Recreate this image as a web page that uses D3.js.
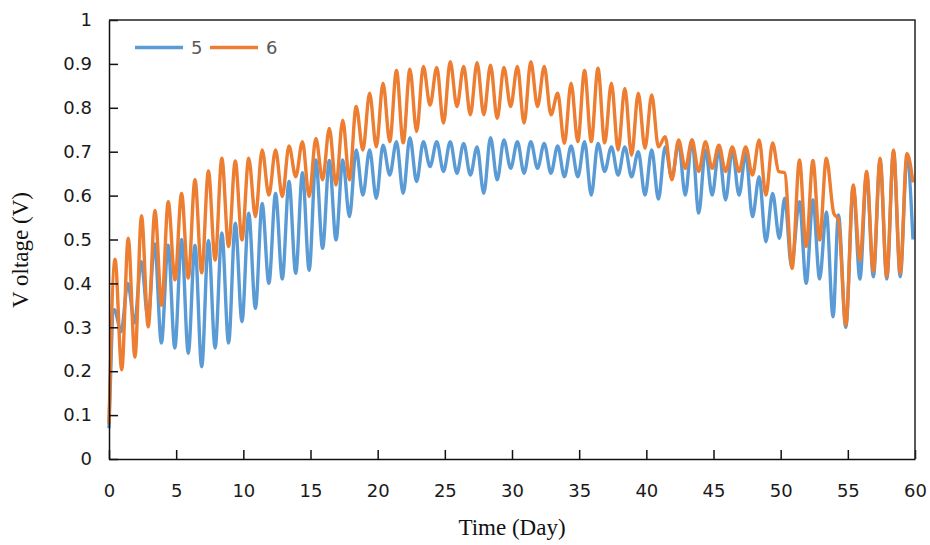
<!DOCTYPE html>
<html>
<head>
<meta charset="utf-8">
<script src="https://cdn.jsdelivr.net/npm/d3@7"></script>
<style>
  body { margin: 0; background: #fff; }
</style>
</head>
<body>
<div class="voltageChart"></div>
<script>
// series names
const seriesNames = ['5', '6'];

// times (day) of each read point and voltage, series 5
const time5 = [0, 0.4, 0.9, 1.4, 1.9, 2.4, 2.9, 3.4, 3.9, 4.4, 4.9, 5.4, 5.9, 6.4, 6.9, 7.4, 7.9, 8.4, 8.9,
  9.4, 9.9, 10.4, 10.9, 11.4, 11.9, 12.4, 12.9, 13.4, 13.9, 14.4, 14.9, 15.4, 15.9, 16.4, 16.9, 17.4, 17.9,
  18.4, 18.9, 19.4, 19.9, 20.4, 20.9, 21.4, 21.9, 22.4, 22.9, 23.4, 23.9, 24.4, 24.9, 25.4, 25.9, 26.4, 26.9,
  27.4, 27.9, 28.4, 28.9, 29.4, 29.9, 30.4, 30.9, 31.4, 31.9, 32.4, 32.9, 33.4, 33.9, 34.4, 34.9, 35.4, 35.9,
  36.4, 36.9, 37.4, 37.9, 38.4, 38.9, 39.4, 39.9, 40.4, 40.9, 41.4, 41.9, 42.4, 42.9, 43.4, 43.9, 44.4, 44.9,
  45.4, 45.9, 46.4, 46.9, 47.4, 47.9, 48.4, 48.9, 49.4, 49.9, 50.3, 50.8, 51.4, 51.9, 52.4, 52.9, 53.4, 53.9,
  54.3, 54.85, 55.4, 55.9, 56.4, 56.9, 57.4, 57.9, 58.4, 58.9, 59.4, 59.85];
const volt5 = [0.07, 0.34, 0.29, 0.40, 0.31, 0.45, 0.32, 0.49, 0.264, 0.487, 0.253, 0.50, 0.241, 0.487, 0.21, 0.498, 0.253, 0.515, 0.264,
  0.537, 0.313, 0.56, 0.343, 0.582, 0.40, 0.605, 0.41, 0.632, 0.423, 0.652, 0.43, 0.681, 0.48, 0.68, 0.499, 0.681, 0.552,
  0.704, 0.601, 0.704, 0.594, 0.715, 0.647, 0.723, 0.605, 0.732, 0.632, 0.723, 0.666, 0.723, 0.655, 0.723, 0.651, 0.719, 0.647,
  0.711, 0.605, 0.732, 0.636, 0.727, 0.662, 0.723, 0.651, 0.723, 0.662, 0.719, 0.651, 0.713, 0.643, 0.713, 0.643, 0.723, 0.601,
  0.719, 0.655, 0.711, 0.647, 0.711, 0.643, 0.70, 0.601, 0.704, 0.592, 0.711, 0.64, 0.72, 0.601, 0.727, 0.56, 0.704, 0.601,
  0.704, 0.59, 0.704, 0.601, 0.696, 0.552, 0.643, 0.495, 0.605, 0.503, 0.594, 0.44, 0.586, 0.40, 0.59, 0.41, 0.563, 0.324,
  0.556, 0.30, 0.62, 0.41, 0.65, 0.415, 0.68, 0.41, 0.70, 0.415, 0.685, 0.50];

// series 6
const time6 = [0, 0.45, 0.95, 1.43, 1.93, 2.42, 2.92, 3.42, 3.92, 4.41, 4.91, 5.4, 5.9, 6.4, 6.9, 7.4, 7.9, 8.4, 8.9,
  9.4, 9.9, 10.4, 10.9, 11.4, 11.9, 12.4, 12.9, 13.4, 13.9, 14.4, 14.9, 15.4, 15.9, 16.4, 16.9, 17.4, 17.9,
  18.4, 18.9, 19.4, 19.9, 20.4, 20.9, 21.4, 21.9, 22.4, 22.9, 23.4, 23.9, 24.4, 24.9, 25.4, 25.9, 26.4, 26.9,
  27.4, 27.9, 28.4, 28.9, 29.4, 29.9, 30.4, 30.9, 31.4, 31.9, 32.4, 32.9, 33.4, 33.9, 34.4, 34.9, 35.4, 35.9,
  36.4, 36.9, 37.4, 37.9, 38.4, 38.9, 39.4, 39.9, 40.4, 40.9, 41.4, 41.9, 42.4, 42.9, 43.4, 43.9, 44.4, 44.9,
  45.4, 45.9, 46.4, 46.9, 47.4, 47.9, 48.4, 48.9, 49.4, 49.85, 50.3, 50.85, 51.4, 51.9, 52.4, 52.9, 53.4, 53.95,
  54.3, 54.85, 55.4, 55.9, 56.4, 56.9, 57.4, 57.9, 58.4, 58.9, 59.4, 59.85];
const volt6 = [0.08, 0.455, 0.203, 0.503, 0.232, 0.554, 0.301, 0.566, 0.35, 0.586, 0.408, 0.605, 0.412, 0.636, 0.424, 0.656, 0.453, 0.685, 0.484,
  0.679, 0.499, 0.685, 0.552, 0.704, 0.601, 0.704, 0.598, 0.713, 0.643, 0.723, 0.598, 0.73, 0.636, 0.753, 0.624, 0.772, 0.636,
  0.803, 0.704, 0.833, 0.711, 0.856, 0.723, 0.885, 0.72, 0.888, 0.746, 0.894, 0.806, 0.892, 0.765, 0.905, 0.803, 0.894, 0.784,
  0.903, 0.784, 0.897, 0.776, 0.892, 0.803, 0.894, 0.765, 0.905, 0.803, 0.894, 0.784, 0.833, 0.719, 0.856, 0.723, 0.885, 0.723,
  0.89, 0.72, 0.856, 0.704, 0.844, 0.692, 0.833, 0.708, 0.829, 0.711, 0.734, 0.636, 0.727, 0.662, 0.727, 0.655, 0.723, 0.662,
  0.715, 0.655, 0.711, 0.655, 0.711, 0.647, 0.727, 0.601, 0.72, 0.655, 0.652, 0.434, 0.681, 0.484, 0.68, 0.499, 0.685, 0.56,
  0.545, 0.305, 0.624, 0.453, 0.655, 0.427, 0.685, 0.415, 0.704, 0.423, 0.696, 0.63];

// axis ticks
const xTicks = [0, 5, 10, 15, 20, 25, 30, 35, 40, 45, 50, 55, 60];
const yTicks = [0, 0.1, 0.2, 0.3, 0.4, 0.5, 0.6, 0.7, 0.8, 0.9, 1];
const yTickLabels = ['0', '0.1', '0.2', '0.3', '0.4', '0.5', '0.6', '0.7', '0.8', '0.9', '1'];

const colors = ['#5B9BD5', '#ED7D31'];

function voltageChart() {
    const width = 930, height = 545;
    const margin = {top: 20, right: 15, bottom: 86, left: 109};

    const svg = d3.select('.voltageChart')
        .append('svg')
        .attr('width', width)
        .attr('height', height)
        .attr('style', 'font: 18px "DejaVu Sans", sans-serif');

    const scaleX = d3.scaleLinear()
        .domain([0, 60])
        .range([margin.left, width - margin.right]);

    const scaleY = d3.scaleLinear()
        .domain([0, 1])
        .range([height - margin.bottom, margin.top]);

    // lines
    const series = [
        {name: seriesNames[0], pts: time5.map((t, i) => [t, volt5[i]])},
        {name: seriesNames[1], pts: time6.map((t, i) => [t, volt6[i]])}
    ];

    const line = d3.line()
        .x(d => scaleX(d[0]))
        .y(d => scaleY(d[1]))
        .curve(d3.curveMonotoneX);

    svg.append('g')
        .selectAll('path')
        .data(series)
        .join('path')
        .attr('d', d => line(d.pts))
        .attr('fill', 'none')
        .attr('stroke', (d, i) => colors[i])
        .attr('stroke-width', 3.4)
        .attr('stroke-linejoin', 'round');

    // axes, ticks pointing inward
    const yAxis = svg.append('g')
        .attr('transform', `translate(${margin.left}, 0)`)
        .call(d3.axisLeft(scaleY)
            .tickValues(yTicks)
            .tickFormat((d, i) => yTickLabels[i])
            .tickSizeInner(-9)
            .tickSizeOuter(0)
            .tickPadding(17));

    const xAxis = svg.append('g')
        .attr('transform', `translate(0, ${height - margin.bottom})`)
        .call(d3.axisBottom(scaleX)
            .tickValues(xTicks)
            .tickSizeInner(-9)
            .tickSizeOuter(0)
            .tickPadding(25));

    [xAxis, yAxis].forEach(ax => {
        ax.selectAll('text').attr('fill', '#1a1a1a').style('font-size', '18px').style('font-family', '"DejaVu Sans", sans-serif');
        ax.selectAll('line').attr('stroke', '#111').attr('stroke-width', 1.5);
        ax.select('.domain').attr('stroke', '#111').attr('stroke-width', 1.5);
    });

    // frame top and right
    svg.append('path')
        .attr('d', `M${margin.left},${margin.top}H${width - margin.right}V${height - margin.bottom}`)
        .attr('fill', 'none')
        .attr('stroke', '#222')
        .attr('stroke-width', 1.5);

    // axis titles
    svg.append('text')
        .attr('x', (margin.left + width - margin.right) / 2)
        .attr('y', 535)
        .attr('text-anchor', 'middle')
        .style('font', '23px "Liberation Serif", serif')
        .attr('fill', '#111')
        .text('Time (Day)');

    svg.append('text')
        .attr('transform', 'translate(28, 250) rotate(-90)')
        .attr('text-anchor', 'middle')
        .style('font', '23px "Liberation Serif", serif')
        .attr('fill', '#111')
        .text('V oltage (V)');

    // legend
    const legend = svg.append('g')
        .selectAll('g')
        .data(seriesNames)
        .join('g')
        .attr('transform', (d, i) => `translate(${135 + i * 75}, 47.5)`);

    legend.append('line')
        .attr('x1', 0).attr('x2', 48)
        .attr('stroke', (d, i) => colors[i])
        .attr('stroke-width', 3.4);

    legend.append('text')
        .attr('x', 56)
        .attr('dy', '0.36em')
        .attr('fill', '#595959')
        .text(d => d);
}

voltageChart();
</script>
</body>
</html>
